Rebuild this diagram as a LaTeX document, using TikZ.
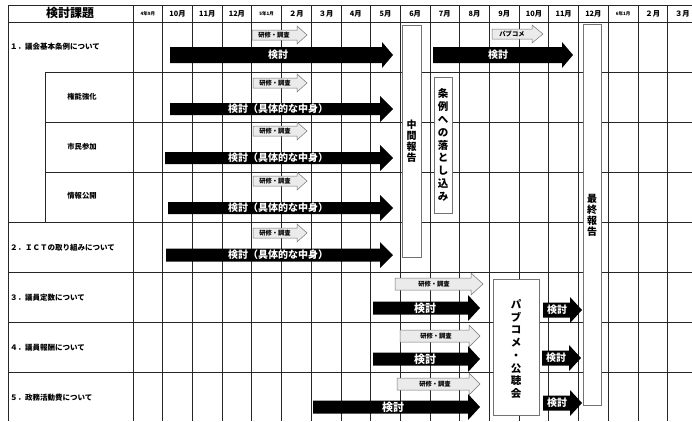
\documentclass[tikz,border=0pt]{standalone}
\usepackage{fontspec}
\setmainfont{Noto Sans CJK JP}
\newcommand{\blackarr}[6]{\fill[blk] (#1,#4-#5) -- (#2,#4-#5) -- (#2,#4-#6) -- (#3,#4) -- (#2,#4+#6) -- (#2,#4+#5) -- (#1,#4+#5) -- cycle;}
\newcommand{\grayarr}[6]{\draw[gry] (#1,#4-#5) -- (#2,#4-#5) -- (#2,#4-#6) -- (#3,#4) -- (#2,#4+#6) -- (#2,#4+#5) -- (#1,#4+#5) -- cycle;}
\newcommand{\smallm}{\fontsize{4.5}{5}\selectfont}
\begin{document}
\begin{tikzpicture}[x=1pt,y=-1pt,
  gridline/.style={line width=0.7pt, black!85},
  vbox/.style={draw=black!55, fill=white, line width=0.6pt},
  blk/.style={fill=black},
  gry/.style={fill=black!8, draw=black!55, line width=0.5pt},
  blab/.style={text=white, font=\bfseries\fontsize{10}{10}\selectfont, inner sep=0pt},
  glab/.style={font=\bfseries\fontsize{6.3}{6.5}\selectfont, inner sep=0pt},
  rlab/.style={font=\bfseries\fontsize{7.5}{8}\selectfont, inner sep=0pt, anchor=west},
  clab/.style={font=\bfseries\fontsize{7.3}{8}\selectfont, inner sep=0pt},
  mlab/.style={font=\bfseries\fontsize{7.3}{8}\selectfont, inner sep=0pt},
  hlab/.style={font=\bfseries\fontsize{12}{12}\selectfont, inner sep=0pt},
  vlab/.style={font=\bfseries\fontsize{10}{11}\selectfont, align=center, inner sep=0pt},
]
\useasboundingbox (0,0) rectangle (692,421);
\clip (0,0) rectangle (692,421);
\fill[white] (0,0) rectangle (692,421);

% grid
\foreach \i in {0,...,19} {\draw[gridline] ({133+29.7*\i},5) -- ({133+29.7*\i},421);}
\draw[gridline] (8,5) -- (8,421);
\draw[gridline] (45,72) -- (45,222);
\draw[gridline] (8,5) -- (692,5);
\draw[gridline] (8,22) -- (692,22);
\foreach \y in {72,122,172} {\draw[gridline] (45,\y) -- (692,\y);}
\foreach \y in {222,272,322,372} {\draw[gridline] (8,\y) -- (692,\y);}

% header
\node[hlab] (head) at (70,13) {検討課題};
\foreach \lab [count=\i from 0] in {{\smallm 4年9月},10月,11月,12月,{\smallm 5年1月},２月,３月,4月,5月,6月,7月,8月,9月,10月,11月,12月,{\smallm 6年1月},２月,３月}
  {\node[mlab] (m\i) at ({133+29.7*\i+14.85},13.5) {\lab};}

% row labels
\node[rlab] (t1) at (10,47) {１．議会基本条例について};
\node[clab] (t1a) at (82,97) {権能強化};
\node[clab] (t1b) at (82,147) {市民参加};
\node[clab] (t1c) at (82,196) {情報公開};
\node[rlab] (t2) at (10,248) {２．ＩＣＴの取り組みについて};
\node[rlab] (t3) at (10,298) {３．議員定数について};
\node[rlab] (t4) at (10,348) {４．議員報酬について};
\node[rlab] (t5) at (10,398) {５．政務活動費について};

% vertical boxes
\draw[vbox] (402,25) rectangle (421,257);
\node[vlab] (chukan) at (411.5,141) {中\\間\\報\\告};
\draw[vbox] (434,77) rectangle (452,213);
\node[vlab, font=\bfseries\fontsize{10.5}{12.9}\selectfont] (jorei) at (443,145) {条\\例\\へ\\の\\落\\と\\し\\込\\み};
\draw[vbox] (583,24) rectangle (601,405);
\node[vlab] (saishu) at (592,215) {最\\終\\報\\告};
\draw[vbox] (493,279) rectangle (539,415);
\node[vlab, font=\bfseries\fontsize{10.5}{12.7}\selectfont] (pubcom) at (516,349) {パ\\ブ\\コ\\メ\\・\\公\\聴\\会};

% row 1
\grayarr{252}{297}{307}{35}{5}{9}
\node[glab] (g1) at (274,35) {研修・調査};
\blackarr{170}{382}{393}{55}{8}{13}
\node[blab] (k1) at (278,55) {検討};
\grayarr{492}{532}{543}{34}{5}{9}
\node[glab] (g1b) at (512,34) {パブコメ};
\blackarr{433}{562}{573}{55}{8}{13}
\node[blab] (k1b) at (498,55) {検討};

% sub rows and ICT
\grayarr{253}{297}{307}{83}{5}{9}
\node[glab] (g2) at (275,83) {研修・調査};
\blackarr{170}{380}{393}{109}{6}{13}
\node[blab] (k2) at (278,109) {検討（具体的な中身）};

\grayarr{253}{297}{307}{131}{5}{9}
\node[glab] (g3) at (275,131) {研修・調査};
\blackarr{165}{380}{393}{158}{6}{13}
\node[blab] (k3) at (278,158) {検討（具体的な中身）};

\grayarr{253}{297}{307}{181}{5}{9}
\node[glab] (g4) at (275,181) {研修・調査};
\blackarr{168}{380}{393}{208}{6}{13}
\node[blab] (k4) at (278,208) {検討（具体的な中身）};

\grayarr{253}{297}{307}{233}{5}{9}
\node[glab] (g5) at (275,233) {研修・調査};
\blackarr{166}{380}{393}{255}{6.5}{13}
\node[blab] (k5) at (278,255) {検討（具体的な中身）};

% rows 3-5
\grayarr{395}{471}{483}{284}{6}{11}
\node[glab] (g6) at (434,284) {研修・調査};
\blackarr{373}{468}{480}{308}{6.5}{13}
\node[blab, font=\bfseries\fontsize{11}{11}\selectfont] (k6) at (425,308) {検討};
\blackarr{543}{570}{582}{310}{7.5}{13}
\node[blab] (k6b) at (557,310) {検討};

\grayarr{400}{469}{480}{336}{6}{11}
\node[glab] (g7) at (436,336) {研修・調査};
\blackarr{373}{468}{480}{359}{6.5}{13}
\node[blab, font=\bfseries\fontsize{11}{11}\selectfont] (k7) at (425,359) {検討};
\blackarr{542}{569}{581}{358}{7.5}{13}
\node[blab] (k7b) at (556,358) {検討};

\grayarr{397}{469}{480}{384}{6}{11}
\node[glab] (g8) at (435,384) {研修・調査};
\blackarr{313}{468}{480}{407}{6.5}{13}
\node[blab, font=\bfseries\fontsize{11}{11}\selectfont] (k8) at (393,407) {検討};
\blackarr{543}{570}{582}{403}{7.5}{13}
\node[blab] (k8b) at (557,403) {検討};
\end{tikzpicture}
\end{document}
